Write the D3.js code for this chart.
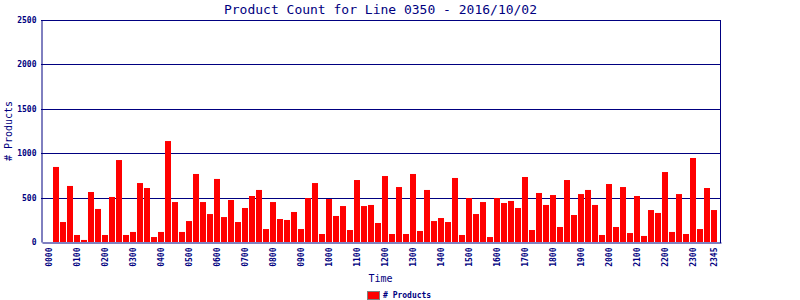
<!DOCTYPE html>
<html>
<head>
<meta charset="utf-8">
<script src="https://cdn.jsdelivr.net/npm/d3@7"></script>
<style>
  body { margin: 0; background: #fff; }
  svg { display: block; }
</style>
</head>
<body>
<svg id="chart_svg" width="800" height="300"></svg>
<script>
// quarter-hour slots, 0000 .. 2345
const slots = d3.range(96).map(i => {
  const h = Math.floor(i / 4), m = (i % 4) * 15;
  return String(h).padStart(2, "0") + String(m).padStart(2, "0");
});

// product counts per slot
const counts = [
  0, 845, 225, 631, 79, 23, 563, 372, 79, 507, 923, 79,
  113, 664, 608, 56, 113, 1137, 450, 113, 236, 766, 450, 315,
  710, 281, 473, 225, 383, 518, 586, 146, 450, 259, 248, 338,
  146, 495, 664, 90, 484, 293, 405, 135, 698, 405, 417, 214,
  743, 90, 619, 90, 766, 124, 586, 236, 270, 225, 721, 79,
  495, 315, 450, 56, 495, 439, 462, 383, 732, 135, 552, 417,
  529, 169, 698, 304, 540, 586, 417, 79, 653, 169, 619, 101,
  518, 68, 360, 327, 788, 113, 540, 90, 946, 146, 608, 360
];

const yTicks = [0, 500, 1000, 1500, 2000, 2500];
const xTickLabels = slots.filter((d, i) => i % 4 === 0).concat(["2345"]);

const title = "Product Count for Line 0350 - 2016/10/02";
const navy = "#000080";
const mono = "'DejaVu Sans Mono', monospace";

const svg = d3.select("#chart_svg");
const margin = { top: 20, bottom: 58, left: 41, right: 80 };
const width = 800, height = 300;
const plotRight = width - margin.right;
const plotBottom = height - margin.bottom;

const xScale = d3.scaleBand()
  .domain(slots)
  .range([margin.left + 1, plotRight + 1])
  .paddingInner(0.1)
  .paddingOuter(0.55)
  .round(true);

const yScale = d3.scaleLinear()
  .domain([0, 2500])
  .range([plotBottom, margin.top]);

// grid lines
svg.append("g")
  .selectAll("line")
  .data(yTicks.filter(d => d > 0))
  .enter()
  .append("line")
  .attr("x1", margin.left)
  .attr("x2", plotRight)
  .attr("y1", d => Math.round(yScale(d)) + 0.5)
  .attr("y2", d => Math.round(yScale(d)) + 0.5)
  .attr("stroke", navy)
  .attr("stroke-width", 1);

// bars
svg.append("g")
  .selectAll("rect")
  .data(counts)
  .enter()
  .append("rect")
  .attr("x", (d, i) => xScale(slots[i]))
  .attr("y", d => yScale(d))
  .attr("width", xScale.bandwidth())
  .attr("height", d => plotBottom - yScale(d))
  .attr("fill", "#ff0000");

// right border
svg.append("line")
  .attr("x1", plotRight + 0.5).attr("x2", plotRight + 0.5)
  .attr("y1", margin.top).attr("y2", plotBottom + 1)
  .attr("stroke", navy).attr("stroke-width", 1);

// y axis
const yAxis = d3.axisLeft(yScale).tickValues(yTicks).tickFormat(d3.format("d")).tickSize(0).tickPadding(5);
const gY = svg.append("g")
  .attr("transform", "translate(" + (margin.left + 0.5) + ",0)")
  .call(yAxis);
gY.select(".domain").attr("stroke", navy).attr("stroke-width", 1);
gY.selectAll("text")
  .attr("fill", navy)
  .style("font-family", mono)
  .style("font-size", "8px")
  .style("font-weight", "bold");

// x axis
const xAxis = d3.axisBottom(xScale).tickValues(xTickLabels).tickSize(0).tickPadding(0);
const gX = svg.append("g")
  .attr("transform", "translate(0," + (plotBottom + 0.5) + ")")
  .call(xAxis);
gX.select(".domain").attr("stroke", navy).attr("stroke-width", 1);
gX.selectAll("text")
  .attr("fill", navy)
  .attr("transform", "rotate(-90)")
  .attr("text-anchor", "end")
  .attr("x", -5)
  .attr("y", 0)
  .attr("dy", "0.35em")
  .style("font-family", mono)
  .style("font-size", "8px")
  .style("font-weight", "bold");

// title
svg.append("text")
  .attr("x", (margin.left + plotRight) / 2)
  .attr("y", 14)
  .attr("text-anchor", "middle")
  .attr("fill", navy)
  .style("font-family", mono)
  .style("font-size", "13px")
  .text(title);

// axis titles
svg.append("text")
  .attr("x", (margin.left + plotRight) / 2)
  .attr("y", 282)
  .attr("text-anchor", "middle")
  .attr("fill", navy)
  .style("font-family", mono)
  .style("font-size", "10px")
  .text("Time");

svg.append("text")
  .attr("transform", "rotate(-90)")
  .attr("x", -(margin.top + plotBottom) / 2)
  .attr("y", 12)
  .attr("text-anchor", "middle")
  .attr("fill", navy)
  .style("font-family", mono)
  .style("font-size", "10px")
  .text("# Products");

// legend
const legend = svg.append("g").attr("transform", "translate(367,291)");
legend.append("rect")
  .attr("x", 0.5).attr("y", 0.5)
  .attr("width", 12).attr("height", 8)
  .attr("fill", "#ff0000")
  .attr("stroke", "#808080");
legend.append("text")
  .attr("x", 16)
  .attr("y", 7)
  .attr("fill", navy)
  .style("font-family", mono)
  .style("font-size", "8px")
  .style("font-weight", "bold")
  .text("# Products");
</script>
</body>
</html>
